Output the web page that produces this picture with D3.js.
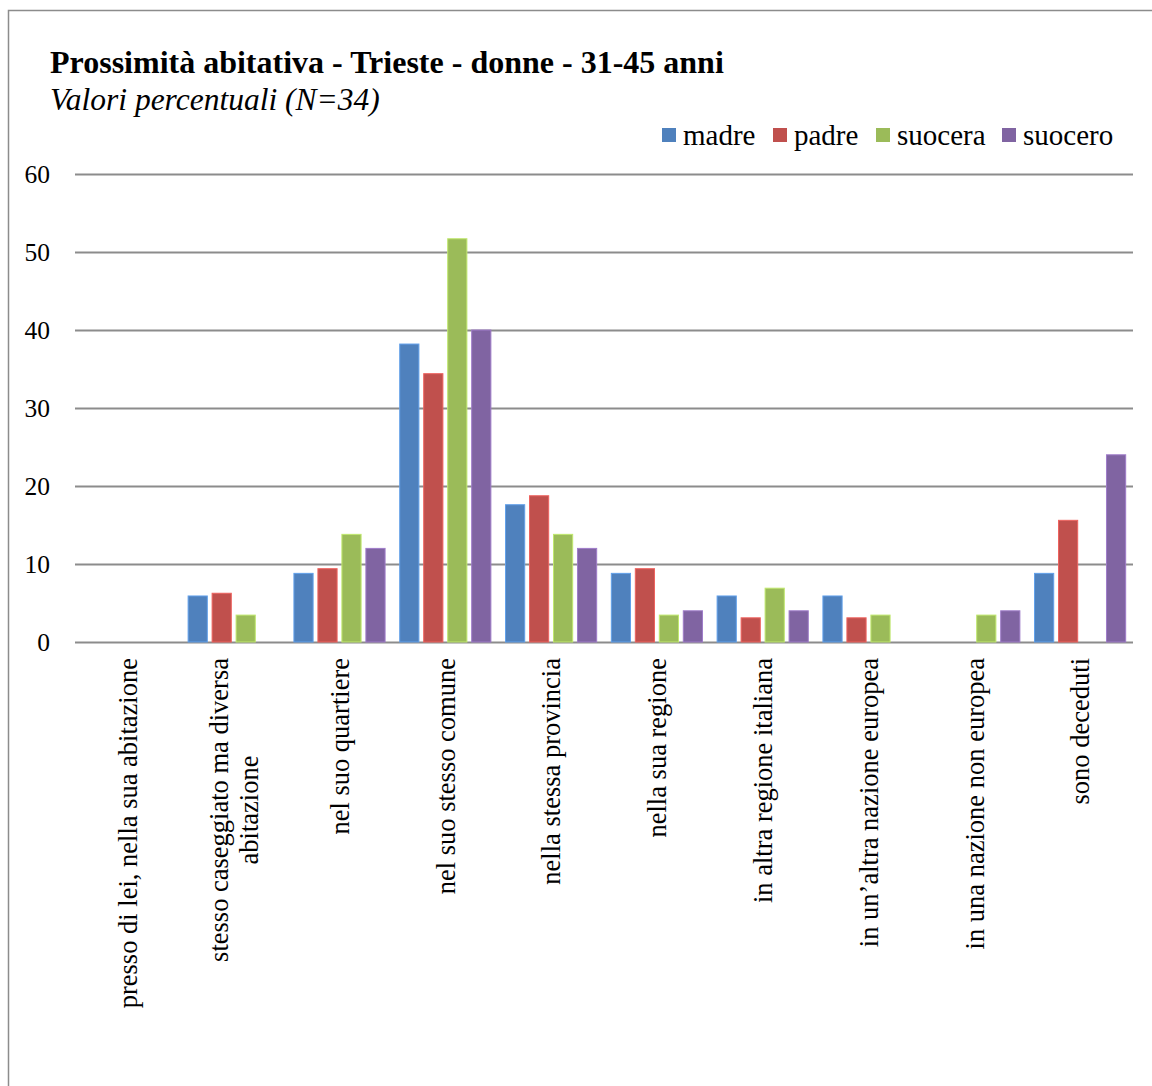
<!DOCTYPE html>
<html>
<head>
<meta charset="utf-8">
<script src="https://cdn.jsdelivr.net/npm/d3@7"></script>
<style>
  body { margin: 0; background: #fff; }
  svg { display: block; font-family: "Liberation Serif", "Times New Roman", serif; }
</style>
</head>
<body>
<div id="chart"></div>
<script>
// categories (line breaks mark the wrapped axis labels)
const categories = [
  "presso di lei, nella sua abitazione",
  "stesso caseggiato ma diversa\nabitazione",
  "nel suo quartiere",
  "nel suo stesso comune",
  "nella stessa provincia",
  "nella sua regione",
  "in altra regione italiana",
  "in un’altra nazione europea",
  "in una nazione non europea",
  "sono deceduti"
];
const seriesNames = ["madre", "padre", "suocera", "suocero"];
const madre   = [0, 5.9, 8.8, 38.2, 17.6, 8.8, 5.9, 5.9, 0, 8.8];
const padre   = [0, 6.25, 9.4, 34.4, 18.75, 9.4, 3.1, 3.1, 0, 15.6];
const suocera = [0, 3.45, 13.8, 51.7, 13.8, 3.45, 6.9, 3.45, 3.45, 0];
const suocero = [0, 0, 12, 40, 12, 4, 4, 0, 4, 24];
const yTicks = [0, 10, 20, 30, 40, 50, 60];
const colors = ["#4f81bd", "#c0504d", "#9bbb59", "#8064a2"];

const values = [madre, padre, suocera, suocero];
const width = 1152, height = 1086;
const margin = { top: 174, right: 19, bottom: 444, left: 75 };

const svg = d3.select("#chart").append("svg")
  .attr("width", width).attr("height", height);

// outer frame
svg.append("rect")
  .attr("x", 8.5).attr("y", 10.5)
  .attr("width", width + 10).attr("height", height + 10)
  .attr("fill", "none").attr("stroke", "#8c8c8c").attr("stroke-width", 1.5);

// titles
svg.append("text").attr("x", 50).attr("y", 73)
  .attr("font-size", 32).attr("font-weight", "bold").attr("fill", "#000")
  .text("Prossimità abitativa - Trieste - donne - 31-45 anni");
svg.append("text").attr("x", 50).attr("y", 110)
  .attr("font-size", 31.5).attr("font-style", "italic").attr("fill", "#000")
  .text("Valori percentuali (N=34)");

const x0 = d3.scaleBand()
  .domain(categories)
  .range([margin.left, width - margin.right])
  .paddingInner(0.093).paddingOuter(0.0465);

const x1 = d3.scaleBand()
  .domain(seriesNames)
  .range([0, x0.bandwidth()])
  .paddingInner(0.2).paddingOuter(0.1);

const y = d3.scaleLinear()
  .domain([0, 60])
  .range([height - margin.bottom, margin.top]);

// gridlines + y labels
const yAxis = svg.append("g")
  .attr("transform", `translate(${margin.left},0)`)
  .call(d3.axisLeft(y).tickValues(yTicks).tickSize(-(width - margin.left - margin.right)).tickPadding(25))
  .call(g => g.select(".domain").remove());
yAxis.selectAll(".tick line").attr("stroke", "#8c8c8c").attr("stroke-width", 2);
yAxis.selectAll(".tick text")
  .attr("font-size", 25.5).attr("fill", "#000")
  .attr("font-family", "Liberation Serif, Times New Roman, serif");

// bars
const groups = svg.append("g").selectAll("g")
  .data(categories)
  .join("g")
  .attr("transform", d => `translate(${x0(d)},0)`);

groups.selectAll("rect")
  .data((d, i) => seriesNames.map((s, k) => ({ s, k, v: values[k][i] })))
  .join("rect")
  .filter(d => d.v > 0)
  .attr("x", d => x1(d.s))
  .attr("y", d => y(d.v))
  .attr("width", x1.bandwidth())
  .attr("height", d => y(0) - y(d.v))
  .attr("fill", d => colors[d.k])
  .attr("stroke", d => d3.color(colors[d.k]).brighter(0.6))
  .attr("stroke-width", 1);

// category labels (rotated)
const labelTop = y(0) + 16;
categories.forEach(c => {
  const lines = c.split("\n");
  const cx = x0(c) + x0.bandwidth() / 2;
  const g = svg.append("g")
    .attr("transform", `translate(${cx},${labelTop}) rotate(-90)`);
  const lh = 30;
  const texts = lines.map((line, i) => g.append("text")
    .attr("y", (i - (lines.length - 1) / 2) * lh)
    .attr("dy", "0.35em")
    .attr("font-size", 26.5).attr("fill", "#000")
    .text(line));
  const maxW = d3.max(texts, t => t.node().getComputedTextLength());
  texts.forEach(t => t.attr("x", -maxW / 2).attr("text-anchor", "middle"));
});

// legend
const legendPos = [662, 773, 876, 1002];
const legend = svg.append("g");
seriesNames.forEach((s, i) => {
  legend.append("rect")
    .attr("x", legendPos[i]).attr("y", 128)
    .attr("width", 14).attr("height", 14)
    .attr("fill", colors[i]);
  legend.append("text")
    .attr("x", legendPos[i] + 21).attr("y", 145)
    .attr("font-size", 29).attr("fill", "#000")
    .text(s);
});
</script>
</body>
</html>
